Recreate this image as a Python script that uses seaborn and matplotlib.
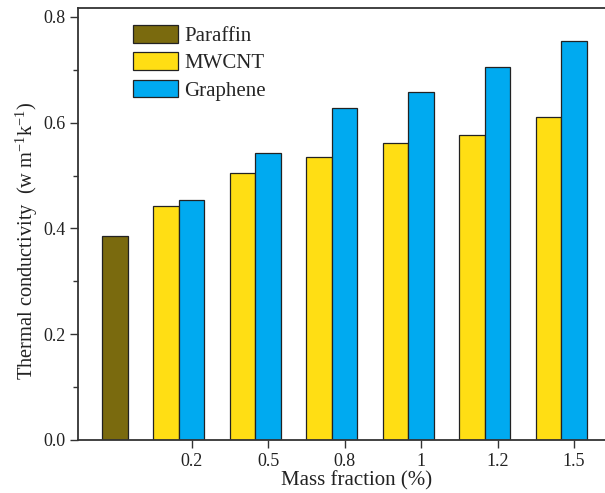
import numpy as np
import pandas as pd
import matplotlib
matplotlib.use("Agg")
import matplotlib.pyplot as plt
from matplotlib.ticker import MultipleLocator, FormatStrFormatter
import seaborn as sns

# ---- data ----
fractions = ["0.2", "0.5", "0.8", "1", "1.2", "1.5"]
paraffin = [0.386]
mwcnt = [0.442, 0.505, 0.535, 0.561, 0.576, 0.611]
graphene = [0.453, 0.543, 0.627, 0.658, 0.705, 0.755]
series_names = ["Paraffin", "MWCNT", "Graphene"]
colors = ["#7A6A0E", "#FFDE14", "#00AAF0"]

sns.set_theme(style="ticks")
plt.rcParams['font.family'] = ['Liberation Serif', 'DejaVu Serif']
plt.rcParams['mathtext.fontset'] = 'custom'
plt.rcParams['mathtext.rm'] = 'Liberation Serif'
plt.rcParams['mathtext.it'] = 'Liberation Serif:italic'
plt.rcParams['mathtext.bf'] = 'Liberation Serif:bold'

fig = plt.figure(figsize=(6.05, 4.93), dpi=100)
ax = fig.add_axes([78 / 605, 53 / 493, 558 / 605, 432 / 493])

bw = 0.333
group = np.arange(1, len(fractions) + 1)
frames = [
    pd.DataFrame({"pos": [0.0], "value": paraffin}),
    pd.DataFrame({"pos": group - bw, "value": mwcnt}),
    pd.DataFrame({"pos": group.astype(float), "value": graphene}),
]
for df, name, c in zip(frames, series_names, colors):
    sns.barplot(data=df, x="pos", y="value", native_scale=True, width=bw,
                color=c, saturation=1, edgecolor="#222222", linewidth=0.9,
                errorbar=None, label=name, ax=ax)

ax.set_xlim(-0.484, 6.81)
ax.set_ylim(0, 0.817)
ax.set_xticks(group)
ax.set_xticklabels(fractions)
ax.yaxis.set_major_locator(MultipleLocator(0.2))
ax.yaxis.set_minor_locator(MultipleLocator(0.1))
ax.yaxis.set_major_formatter(FormatStrFormatter("%.1f"))

for side in ["left", "bottom", "top"]:
    ax.spines[side].set_visible(True)
    ax.spines[side].set_color("#333333")
    ax.spines[side].set_linewidth(1.3)
ax.spines["right"].set_visible(False)

ax.tick_params(axis="both", which="major", direction="out", length=6,
               width=1, color="#333333", labelsize=13, pad=3,
               labelcolor="#222222")
ax.tick_params(axis="y", which="minor", direction="out", length=3.5,
               width=1, color="#333333")
ax.tick_params(axis="x", which="minor", bottom=False)

ax.set_xlabel("Mass fraction (%)", fontsize=15, color="#222222", labelpad=1)
ax.set_ylabel("Thermal conductivity  (w m$^{-1}$k$^{-1}$)", fontsize=14.7,
              color="#222222")
ax.yaxis.set_label_coords(-0.068, 0.46)

handles, labels = ax.get_legend_handles_labels()
ax.legend(handles, labels, loc="upper left", bbox_to_anchor=(0.098, 0.96),
          frameon=False, fontsize=15, handlelength=2.16, handleheight=0.92,
          handletextpad=0.33, labelspacing=0.3, borderpad=0, borderaxespad=0)

fig.savefig("out.png", dpi=100)
